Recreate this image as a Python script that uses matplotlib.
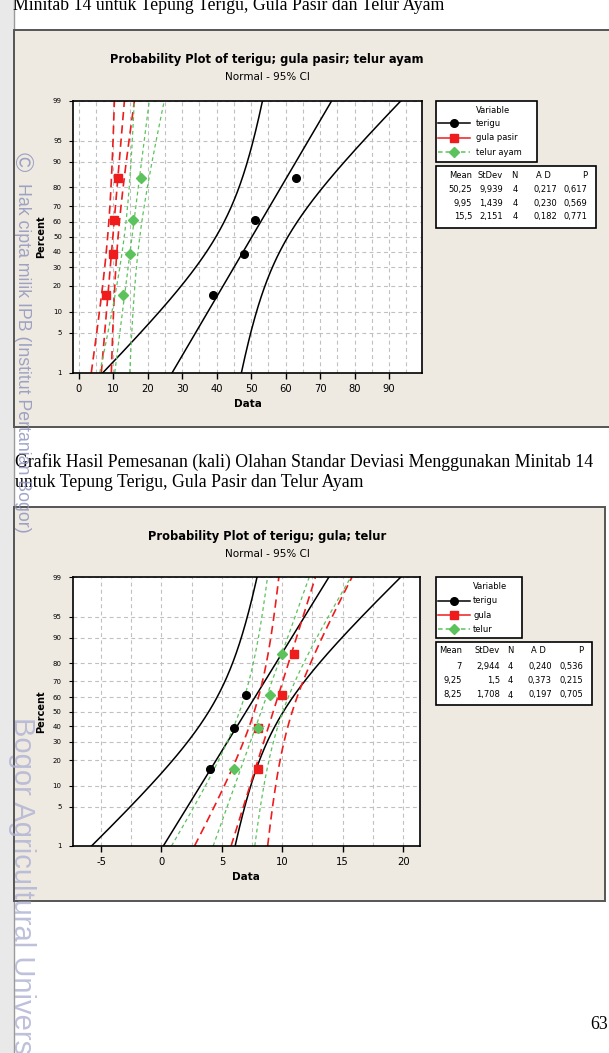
import numpy as np
import matplotlib
matplotlib.use("Agg")
import matplotlib.pyplot as plt
from matplotlib.patches import Rectangle
from statistics import NormalDist

W, H = 609, 1053

# ---- data ----
pct_pos = [15.9, 38.6, 61.4, 84.1]          # plotting positions (%)
pct_ticks = [1, 5, 10, 20, 30, 40, 50, 60, 70, 80, 90, 95, 99]

# chart 1
names1 = ["terigu", "gula pasir", "telur ayam"]
terigu1 = [39, 48, 51, 63]
gula1 = [8, 10, 10.4, 11.4]
telur1 = [13, 15, 15.8, 18.2]
mean1 = [50.25, 9.95, 15.5]
sd1 = [9.939, 1.439, 2.151]
rows1 = [["50,25", "9,939", "4", "0,217", "0,617"],
         ["9,95", "1,439", "4", "0,230", "0,569"],
         ["15,5", "2,151", "4", "0,182", "0,771"]]

# chart 2
names2 = ["terigu", "gula", "telur"]
terigu2 = [4, 6, 7, 11]
gula2 = [8, 8, 10, 11]
telur2 = [6, 8, 9, 10]
mean2 = [7, 9.25, 8.25]
sd2 = [2.944, 1.5, 1.708]
rows2 = [["7", "2,944", "4", "0,240", "0,536"],
         ["9,25", "1,5", "4", "0,373", "0,215"],
         ["8,25", "1,708", "4", "0,197", "0,705"]]

n_obs = 4
headers = ["Mean", "StDev", "N", "A D", "P"]

# ---- styles ----
BLACK = "black"
RED = "#ee1c1c"
GREEN = "#5cc25c"
PANEL = "#eeeae2"
styles = [
    dict(color=BLACK, ls="-", lw=1.1, marker="o", ms=5.5),
    dict(color=RED, ls=(0, (5, 3)), lw=1.2, marker="s", ms=5.5),
    dict(color=GREEN, ls=(0, (3, 2.5)), lw=0.9, marker="D", ms=5),
]
leg_ls = ["-", "-", (0, (3, 2))]

nd = NormalDist()
zlo, zhi = nd.inv_cdf(0.01), nd.inv_cdf(0.99)

fig = plt.figure(figsize=(W / 100, H / 100), dpi=100)
fig.patch.set_facecolor("white")

bg = fig.add_axes([0, 0, 1, 1], zorder=0)
bg.set_xlim(0, W)
bg.set_ylim(H, 0)
bg.axis("off")


def rect_px(l, t, r, b):
    return [l / W, 1 - b / H, (r - l) / W, (b - t) / H]


def prob_plot(box, xlim, xmajor, xgrid, series, means, sds):
    ax = fig.add_axes(rect_px(*box), zorder=2)
    ax.set_facecolor("white")
    ax.set_xlim(*xlim)
    ax.set_ylim(zlo, zhi)
    ax.set_xticks(xmajor)
    ax.set_xticklabels([str(v) for v in xmajor], fontsize=7.2)
    ax.set_xticks(xgrid, minor=True)
    ax.set_yticks([nd.inv_cdf(p / 100) for p in pct_ticks])
    ax.set_yticklabels([str(p) for p in pct_ticks], fontsize=5)
    ax.tick_params(axis="x", which="major", length=4, width=1, pad=4)
    ax.tick_params(axis="x", which="minor", length=0)
    ax.tick_params(axis="y", length=3, width=0.8, pad=5)
    ax.grid(True, axis="x", which="both", color="#c0c0c0", ls=(0, (3.5, 3)), lw=0.8)
    ax.grid(True, axis="y", which="major", color="#c0c0c0", ls=(0, (3.5, 3)), lw=0.8)
    ax.set_axisbelow(True)
    for s in ax.spines.values():
        s.set_linewidth(1.2)
        s.set_color("black")

    zz = np.linspace(zlo, zhi, 200)
    zp = [nd.inv_cdf(p / 100) for p in pct_pos]
    for vals, m, s, st in zip(series, means, sds, styles):
        fit = m + s * zz
        half = 1.96 * 1.07 * s * np.sqrt(1 / n_obs + zz ** 2 / (2 * n_obs))
        for curve in (fit - half, fit, fit + half):
            ax.plot(curve, zz, color=st["color"], ls=st["ls"], lw=st["lw"])
    for vals, st in zip(series, styles):
        ax.plot(sorted(vals), zp, ls="none", marker=st["marker"],
                ms=st["ms"], color=st["color"], mec=st["color"], zorder=5)
    return ax


def panel(l, t, r, b, title, xlab_y, box, names, rows, leg, tab, cols, ad_hdr):
    bg.add_patch(Rectangle((l, t), r - l, b - t, facecolor=PANEL,
                           edgecolor="#555555", lw=1.4, zorder=1))
    bg.text(267, t + 29.5, title, ha="center", va="center", fontsize=8.3,
            fontweight="bold", zorder=3)
    bg.text(267, t + 47.5, "Normal - 95% CI", ha="center", va="center",
            fontsize=7.5, zorder=3)
    bg.text((box[0] + box[2]) / 2, xlab_y, "Data", ha="center", va="center",
            fontsize=7.5, fontweight="bold", zorder=3)
    bg.text(40.7, (box[1] + box[3]) / 2, "Percent", ha="center", va="center",
            rotation=90, fontsize=7, fontweight="bold", zorder=3)

    # legend
    lx0, ly0, lx1, ly1, title_x, label_x, row_y = leg
    bg.add_patch(Rectangle((lx0, ly0), lx1 - lx0, ly1 - ly0, facecolor="white",
                           edgecolor="black", lw=1.2, zorder=2))
    bg.text(title_x, row_y[0], "Variable", ha="center", va="center",
            fontsize=6, zorder=3)
    for name, st, ls, y in zip(names, styles, leg_ls, row_y[1:]):
        bg.plot([lx0 + 2, lx0 + 34], [y, y], color=st["color"], ls=ls, lw=1.1,
                zorder=3)
        bg.plot([lx0 + 18], [y], marker=st["marker"], ms=st["ms"],
                color=st["color"], ls="none", zorder=4)
        bg.text(label_x, y, name, ha="left", va="center", fontsize=6, zorder=3)

    # statistics table
    tx0, ty0, tx1, ty1, trow_y = tab
    bg.add_patch(Rectangle((tx0, ty0), tx1 - tx0, ty1 - ty0, facecolor="white",
                           edgecolor="black", lw=1.2, zorder=2))
    hdr_x = cols[:3] + [ad_hdr] + cols[4:]
    for hx, h in zip(hdr_x, headers):
        bg.text(hx, trow_y[0], h, ha="right", va="center", fontsize=6, zorder=3)
    for row, y in zip(rows, trow_y[1:]):
        for cx, v in zip(cols, row):
            bg.text(cx, y, v, ha="right", va="center", fontsize=6, zorder=3)


# page decoration: scanned margin strip
bg.add_patch(Rectangle((0, 0), 14, H, facecolor="#e9e9e9", edgecolor="none", zorder=0))
bg.plot([14.3, 14.3], [0, H], color="#9a9a9a", lw=1, zorder=0.5)

serif = "Liberation Serif"
bg.text(13, 10, "Minitab 14 untuk Tepung Terigu, Gula Pasir dan Telur Ayam",
        family=serif, fontsize=12.8, ha="left", va="baseline", zorder=3)
bg.text(15, 467.3, "Grafik Hasil Pemesanan (kali) Olahan Standar Deviasi "
        "Menggunakan Minitab 14", family=serif, fontsize=12.8, ha="left",
        va="baseline", zorder=3)
bg.text(15, 487.3, "untuk Tepung Terigu, Gula Pasir dan Telur Ayam",
        family=serif, fontsize=12.8, ha="left", va="baseline", zorder=3)
bg.text(599, 1029, "63", family=serif, fontsize=12.8, ha="center",
        va="baseline", zorder=3)

# chart 1
box1 = (73, 100.7, 422.3, 372.7)
panel(14.3, 29.5, 620, 426.7,
      "Probability Plot of terigu; gula pasir; telur ayam", 404, box1, names1,
      rows1,
      (436, 101, 537, 162, 493, 476, [110.7, 123.3, 137.7, 152.3]),
      (436, 166, 596, 228, [176, 189.3, 203.3, 216.7]),
      [472, 503, 518, 557, 587], 551)
prob_plot(box1, (-1.6, 99.6), list(range(0, 100, 10)), list(range(0, 100, 5)),
          [terigu1, gula1, telur1], mean1, sd1)

# chart 2
box2 = (72.7, 577.3, 420, 846)
panel(14.3, 506.7, 604.5, 900.7,
      "Probability Plot of terigu; gula; telur", 877.5, box2, names2, rows2,
      (436, 577, 522, 638, 490, 473, [586.7, 600.7, 615, 629.3]),
      (436, 642, 592, 705, [650.7, 666.7, 680.7, 695]),
      [462, 500, 513, 552, 583], 546)
prob_plot(box2, (-7.35, 21.4), [-5, 0, 5, 10, 15, 20],
          list(np.arange(-5, 21, 2.5)), [terigu2, gula2, telur2], mean2, sd2)

# watermarks of the scanned page
wm = fig.add_axes([0, 0, 1, 1], zorder=5)
wm.set_xlim(0, W)
wm.set_ylim(H, 0)
wm.axis("off")
wm.text(22, 162, "\u00a9", rotation=270, ha="center", va="center",
        fontsize=19, color="#9095bd", alpha=0.85, family="Liberation Sans")
wm.text(22, 183, "Hak cipta milik IPB (Institut Pertanian Bogor)",
        rotation=270, rotation_mode="anchor", ha="left", va="center",
        fontsize=12.8, color="#9095bd", alpha=0.85, family="Liberation Sans")
wm.text(22, 717, "Bogor Agricultural University", rotation=270,
        rotation_mode="anchor", ha="left", va="center", fontsize=21,
        color="#aeb1d2", alpha=0.8, family="Liberation Sans")

fig.savefig("out.png", dpi=100, facecolor="white")
